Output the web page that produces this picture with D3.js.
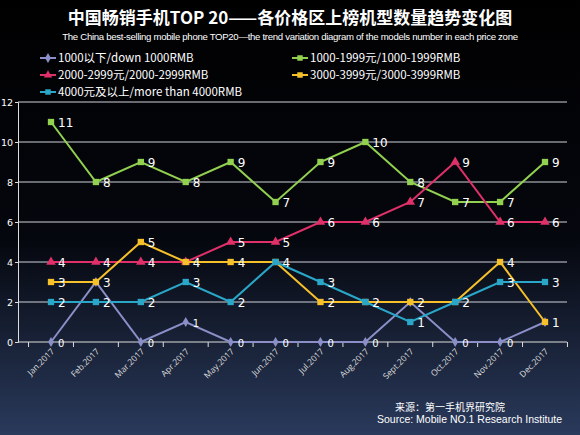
<!DOCTYPE html><html><head><meta charset="utf-8"><script src="https://cdn.jsdelivr.net/npm/d3@7"></script>
<style>body{margin:0;background:#000}svg{display:block}</style></head><body><svg id="c" width="580" height="435"></svg>
<script>
const months=["Jan.2017","Feb.2017","Mar.2017","Apr.2017","May.2017","Jun.2017","Jul.2017","Aug.2017","Sept.2017","Oct.2017","Nov.2017","Dec.2017"];
const s1=[0,3,0,1,0,0,0,0,2,0,0,1];
const s2=[11,8,9,8,9,7,9,10,8,7,7,9];
const s3=[4,4,4,4,5,5,6,6,7,9,6,6];
const s4=[3,3,5,4,4,4,2,2,2,2,4,1];
const s5=[2,2,2,3,2,4,3,2,1,2,3,3];
const names=["1000以下/down 1000RMB","1000-1999元/1000-1999RMB","2000-2999元/2000-2999RMB","3000-3999元/3000-3999RMB","4000元及以上/more than 4000RMB"];
const colors=["#8a8fc8","#92d050","#e0306a","#f5c02a","#2aa7c8"];
const shapes=[d3.symbolDiamond,d3.symbolSquare,d3.symbolTriangle,d3.symbolSquare,d3.symbolSquare];
const yTicks=[0,2,4,6,8,10,12];
const series=[s1,s2,s3,s4,s5];
const svg=d3.select("#c");
const defs=svg.append("defs");
const g=defs.append("linearGradient").attr("id","bg").attr("x1",0).attr("y1",0).attr("x2",0).attr("y2",1);
g.append("stop").attr("offset","0").attr("stop-color","#000");
g.append("stop").attr("offset","0.55").attr("stop-color","#05070e");
g.append("stop").attr("offset","1").attr("stop-color","#2a3a5c");
svg.append("rect").attr("width",580).attr("height",435).attr("fill","url(#bg)");
const x=d3.scalePoint().domain(months).range([51,545]);
const y=d3.scaleLinear().domain([0,12]).range([342,102]);
svg.append("g").selectAll("line").data(yTicks.slice(1)).join("line").attr("x1",18).attr("x2",567).attr("y1",d=>y(d)).attr("y2",d=>y(d)).attr("stroke","#cfd3da").attr("stroke-width",1);
const ya=svg.append("g").attr("transform","translate(18,0)").call(d3.axisLeft(y).tickValues(yTicks).tickSize(3).tickPadding(2));
ya.select(".domain").attr("stroke","#ddd");ya.selectAll("line").attr("stroke","#ddd");
ya.selectAll("text").attr("fill","#fff").attr("font-family","DejaVu Sans").attr("font-size",9.5);
svg.append("line").attr("x1",18).attr("x2",567).attr("y1",342).attr("y2",342).attr("stroke","#ddd");
const step=x.step();
svg.append("g").selectAll("line").data(d3.range(13)).join("line").attr("x1",d=>51-step/2+d*step).attr("x2",d=>51-step/2+d*step).attr("y1",342).attr("y2",347).attr("stroke","#ddd");
svg.append("g").selectAll("text").data(months).join("text").attr("transform",d=>`translate(${x(d)+4},${352}) rotate(-45)`).attr("text-anchor","end").attr("fill","#ddd").attr("font-family","Open Sans").attr("font-size",8.5).text(d=>d);
series.forEach((s,i)=>{
  const line=d3.line().x((d,j)=>x(months[j])).y(d=>y(d));
  svg.append("path").datum(s).attr("d",line).attr("fill","none").attr("stroke",colors[i]).attr("stroke-width",2);
  svg.append("g").selectAll("path").data(s).join("path").attr("transform",(d,j)=>`translate(${x(months[j])},${y(d)})`).attr("d",d3.symbol().type(shapes[i]).size(i==0?30:40)).attr("fill",colors[i]);
  const lab=s.map((d,j)=>({d,j})).filter(o=>!series.some((t,k)=>k>i&&t[o.j]===o.d));
  svg.append("g").selectAll("text").data(lab).join("text").attr("x",o=>x(months[o.j])+7).attr("y",o=>y(o.d)+5).attr("fill","#fff").attr("font-family","DejaVu Sans").attr("font-size",i==0?10:12).text(o=>o.d);
});
svg.append("text").attr("x",290).attr("y",24).attr("text-anchor","middle").attr("fill","#fff").attr("font-family","Noto Sans CJK SC").attr("font-weight","bold").attr("font-size",17).text("中国畅销手机TOP 20——各价格区上榜机型数量趋势变化图");
svg.append("text").attr("x",290).attr("y",40).attr("text-anchor","middle").attr("fill","#fff").attr("font-family","Liberation Sans").attr("font-size",9.6).attr("letter-spacing",-0.3).text("The China best-selling mobile phone TOP20—the trend variation diagram of the models number in each price zone");
const lp=[[40,58],[292,58],[40,75],[292,75],[40,92]];
names.forEach((n,i)=>{
  const [lx,ly]=lp[i];
  svg.append("line").attr("x1",lx).attr("x2",lx+16).attr("y1",ly).attr("y2",ly).attr("stroke",colors[i]).attr("stroke-width",2);
  svg.append("path").attr("transform",`translate(${lx+8},${ly})`).attr("d",d3.symbol().type(shapes[i]).size(30)).attr("fill",colors[i]);
  svg.append("text").attr("x",lx+18).attr("y",ly+4).attr("fill","#fff").attr("font-family","Noto Sans CJK SC").attr("font-size",11.5).text(n);
});
svg.append("text").attr("x",505).attr("y",411).attr("text-anchor","end").attr("fill","#fff").attr("font-family","Noto Sans CJK SC").attr("font-size",10).text("来源：第一手机界研究院");
svg.append("text").attr("x",562).attr("y",423).attr("text-anchor","end").attr("fill","#fff").attr("font-family","Liberation Sans").attr("font-size",10.5).text("Source: Mobile NO.1 Research Institute");
</script></body></html>
